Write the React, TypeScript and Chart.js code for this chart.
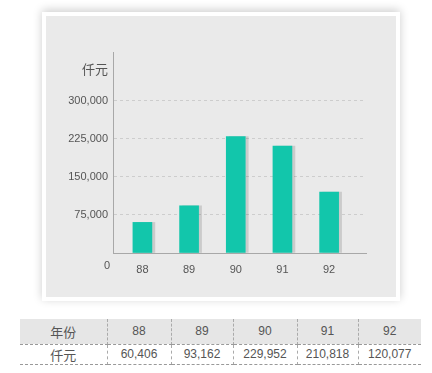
import React, { useEffect, useRef } from 'react';
import { Chart, registerables } from 'chart.js';

Chart.register(...registerables);

const years = [88, 89, 90, 91, 92];
const values = [60406, 93162, 229952, 210818, 120077];
const yTickValues = [0, 75000, 150000, 225000, 300000];
const unitLabel = '仟元';
const rowHeader = '年份';
const unitTickValue = 361000;

const FAMILY = 'Arial, "Liberation Sans", "Noto Sans CJK SC", sans-serif';
const fmt = (v: number) => v.toLocaleString('en-US');

const shadowPlugin = {
  id: 'barShadow',
  beforeDatasetsDraw(chart: any) {
    const ctx = chart.ctx;
    ctx.save();
    ctx.shadowColor = 'rgba(0,0,0,0.13)';
    ctx.shadowOffsetX = 3;
    ctx.shadowOffsetY = 0;
    ctx.shadowBlur = 0;
  },
  afterDatasetsDraw(chart: any) {
    chart.ctx.restore();
  },
};

const zeroPlugin = {
  id: 'zeroLabel',
  afterDraw(chart: any) {
    const { ctx, chartArea } = chart;
    const y = chart.scales.y.getPixelForValue(yTickValues[0]);
    ctx.save();
    ctx.font = `11px ${FAMILY}`;
    ctx.fillStyle = '#555';
    ctx.textAlign = 'right';
    ctx.textBaseline = 'middle';
    ctx.fillText(fmt(yTickValues[0]), chartArea.left - 3, y + 13);
    ctx.restore();
  },
};

function BarChart() {
  const ref = useRef<HTMLCanvasElement | null>(null);
  useEffect(() => {
    if (!ref.current) return;
    const chart = new Chart(ref.current, {
      type: 'bar',
      data: {
        datasets: [
          {
            data: years.map((y, i) => ({ x: y, y: values[i] })),
            backgroundColor: '#12c6ab',
            borderWidth: 0,
            barThickness: 19,
          } as any,
        ],
      },
      options: {
        animation: false,
        responsive: false,
        maintainAspectRatio: false,
        layout: { padding: { top: 36, right: 30, left: 0, bottom: 0 } },
        plugins: { legend: { display: false }, tooltip: { enabled: false } },
        scales: {
          x: {
            type: 'linear',
            offset: false,
            min: 87.37,
            max: 92.79,
            afterBuildTicks: (s: any) => {
              s.ticks = years.map((v) => ({ value: v }));
            },
            afterFit: (s: any) => {
              s.height = 44;
            },
            grid: { display: false, offset: false, drawTicks: false },
            border: { color: '#a8a8a8', width: 1 },
            ticks: {
              padding: 10,
              color: '#555',
              font: { size: 11, family: FAMILY },
              callback: (v: any) => String(v),
            },
          },
          y: {
            min: 0,
            max: 396700,
            afterBuildTicks: (s: any) => {
              s.ticks = [...yTickValues, unitTickValue].map((v) => ({ value: v }));
            },
            afterFit: (s: any) => {
              s.width = 67;
            },
            grid: {
              drawTicks: false,
              color: (c: any) =>
                c.tick && (c.tick.value === 0 || c.tick.value === unitTickValue)
                  ? 'rgba(0,0,0,0)'
                  : '#cdcdcd',
            },
            border: { color: '#a8a8a8', width: 1, dash: [3, 3] },
            ticks: {
              padding: 5,
              color: '#555',
              font: (c: any) => ({
                size: c.tick && c.tick.value === unitTickValue ? 13 : 11,
                family: FAMILY,
              }),
              callback: (v: any) =>
                v === 0 ? '' : v === unitTickValue ? unitLabel : fmt(v),
            },
          },
        },
      } as any,
      plugins: [shadowPlugin, zeroPlugin],
    });
    return () => chart.destroy();
  }, []);
  return <canvas ref={ref} width={350} height={281} style={{ width: 350, height: 281, display: 'block' }} />;
}

const colWidths = [87, 64, 62, 64, 61, 63];

export default function App() {
  const cellBase: React.CSSProperties = {
    textAlign: 'center',
    color: '#555',
    fontFamily: FAMILY,
    fontSize: 12,
    padding: 0,
  };
  return (
    <div style={{ position: 'absolute', left: 0, top: 0, width: 432, height: 373, background: '#fff', overflow: 'hidden' }}>
      <div
        style={{
          position: 'absolute',
          left: 42,
          top: 12,
          width: 358,
          height: 289,
          background: '#fff',
          boxShadow: '0 -2px 9px rgba(0,0,0,0.2)',
        }}
      >
        <div style={{ position: 'absolute', left: 4, top: 4, width: 350, height: 281, background: '#eaeaea' }}>
          <BarChart />
        </div>
      </div>
      <table
        style={{
          position: 'absolute',
          left: 20,
          top: 319,
          width: 401,
          borderCollapse: 'collapse',
          tableLayout: 'fixed',
        }}
      >
        <colgroup>
          {colWidths.map((w, i) => (
            <col key={i} style={{ width: w }} />
          ))}
        </colgroup>
        <tbody>
          <tr style={{ height: 25, background: '#e6e6e6' }}>
            <td style={{ ...cellBase, fontSize: 13, borderBottom: '1px dashed #999', borderRight: '1px dashed #aaa' }}>{rowHeader}</td>
            {years.map((y, i) => (
              <td
                key={y}
                style={{
                  ...cellBase,
                  borderBottom: '1px dashed #999',
                  borderRight: i < years.length - 1 ? '1px dashed #aaa' : 'none',
                }}
              >
                {y}
              </td>
            ))}
          </tr>
          <tr style={{ height: 20 }}>
            <td style={{ ...cellBase, fontSize: 13, borderBottom: '1px dashed #999', borderRight: '1px dashed #aaa' }}>{unitLabel}</td>
            {values.map((v, i) => (
              <td
                key={i}
                style={{
                  ...cellBase,
                  borderBottom: '1px dashed #999',
                  borderRight: i < values.length - 1 ? '1px dashed #aaa' : 'none',
                }}
              >
                {fmt(v)}
              </td>
            ))}
          </tr>
        </tbody>
      </table>
    </div>
  );
}
